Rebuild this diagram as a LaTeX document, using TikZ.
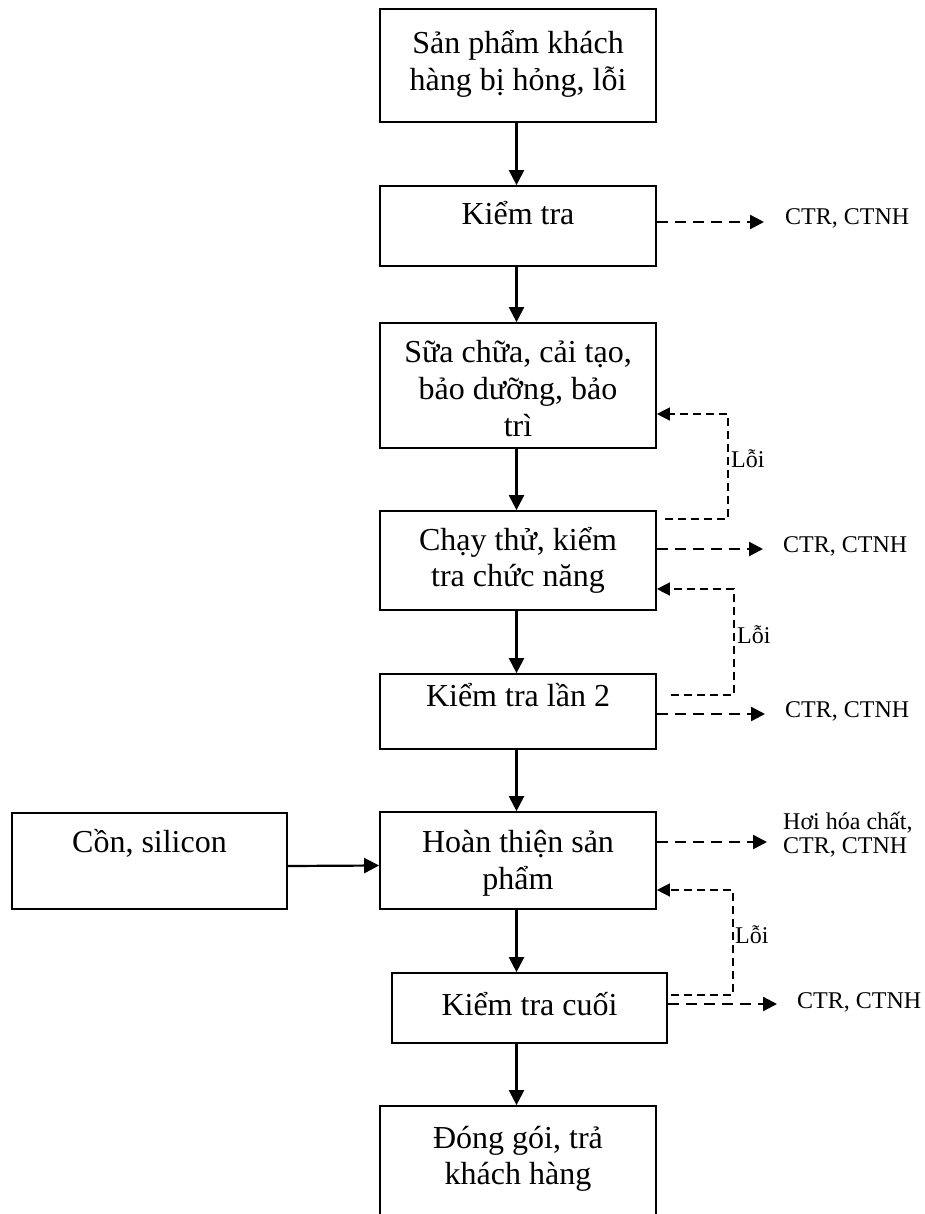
\documentclass[tikz,border=0pt]{standalone}
\usepackage{fontspec}
\setmainfont{Liberation Serif}
\usetikzlibrary{arrows.meta}

\begin{document}
\begin{tikzpicture}[x=1pt,y=-1pt,
  box/.style={draw, line width=1.7pt, inner sep=0pt, minimum width=276pt},
  main/.style={inner sep=0pt, align=center, font=\fontsize{32}{36.7}\selectfont},
  small/.style={inner sep=0pt, align=left, font=\fontsize{24}{24}\selectfont},
  flow/.style={line width=2.2pt, -{Triangle[length=15pt,width=15pt]}},
  waste/.style={line width=2.4pt, dash pattern=on 11pt off 7pt, -{Triangle[length=14pt,width=14pt]}},
  back/.style={line width=1.5pt, dash pattern=on 8pt off 5pt, -{Triangle[length=13pt,width=13pt]}},
]
\useasboundingbox (0,0) rectangle (924,1214);
\clip (0,0) rectangle (924,1214);

% process boxes
\node[box, minimum height=113pt] (b1) at (518,65.5) {};
\node[main] (t1) at (518,64.65) {\strut Sản phẩm khách\\\strut hàng bị hỏng, lỗi};
\node[box, minimum height=80pt] (b2) at (518,226) {};
\node[main] (t2) at (518,217.65) {\strut Kiểm tra};
\node[box, minimum height=125pt] (b3) at (518,385.5) {};
\node[main] (t3) at (518,392.15) {\strut Sữa chữa, cải tạo,\\\strut bảo dưỡng, bảo\\\strut trì};
\node[box, minimum height=99pt] (b4) at (518,560.5) {};
\node[main] (t4) at (518,561.15) {\strut Chạy thử, kiểm\\\strut tra chức năng};
\node[box, minimum height=75pt] (b5) at (518,711.5) {};
\node[main] (t5) at (518,699.65) {\strut Kiểm tra lần 2};
\node[box, minimum height=97pt] (b6) at (518,860.5) {};
\node[main] (t6) at (518,863.65) {\strut Hoàn thiện sản\\\strut phẩm};
\node[box, minimum width=275pt, minimum height=96pt] (cs) at (149.5,861) {};
\node[main] (tcs) at (149.5,845.65) {\strut Cồn, silicon};
\node[box, minimum width=275pt, minimum height=70pt] (b7) at (529.5,1008) {};
\node[main] (t7) at (529.5,1007.65) {\strut Kiểm tra cuối};
\node[box, minimum height=118pt] (b8) at (518,1165) {};
\node[main] (t8) at (518,1159.15) {\strut Đóng gói, trả\\\strut khách hàng};

% main flow
\draw[flow] ([xshift=-1.5pt]b1.south) -- ([xshift=-1.5pt]b2.north);
\draw[flow] ([xshift=-1.5pt]b2.south) -- ([xshift=-1.5pt]b3.north);
\draw[flow] ([xshift=-1.5pt]b3.south) -- ([xshift=-1.5pt]b4.north);
\draw[flow] ([xshift=-1.5pt]b4.south) -- ([xshift=-1.5pt]b5.north);
\draw[flow] ([xshift=-1.5pt]b5.south) -- ([xshift=-1.5pt]b6.north);
\draw[flow] ([xshift=-1.5pt]b6.south) -- ([xshift=-1.5pt]b6.south |- b7.north);
\draw[flow] ([xshift=-1.5pt]b7.south -| b8.north) -- ([xshift=-1.5pt]b8.north);
\draw[flow] ([yshift=-5pt]cs.east) -- ([yshift=-5pt]b6.west);

% waste outputs
\coordinate (w2a) at (764,222);
\draw[waste] (b2.east |- w2a) -- (w2a);
\node[small, anchor=base west] (w2) at (785,225) {CTR, CTNH};
\coordinate (w4a) at (763,549);
\draw[waste] (b4.east |- w4a) -- (w4a);
\node[small, anchor=base west] (w4) at (783,552) {CTR, CTNH};
\coordinate (w5a) at (765,714);
\draw[waste] (b5.east |- w5a) -- (w5a);
\node[small, anchor=base west] (w5) at (785,717) {CTR, CTNH};
\coordinate (w6a) at (767,842);
\draw[waste] (b6.east |- w6a) -- (w6a);
\node[small, anchor=west] (w6) at (783,836.2) {\strut Hơi hóa chất,\\\strut CTR, CTNH};
\coordinate (w7a) at (777,1004);
\draw[waste] (b7.east |- w7a) -- (w7a);
\node[small, anchor=base west] (w7) at (797,1008) {CTR, CTNH};

% rework loops
\coordinate (r1) at (665,519);
\coordinate (k1) at (728,414);
\draw[back] (r1) -| (k1) -- (k1 -| b3.east);
\node[small, anchor=base west] (e1) at (731,467) {Lỗi};
\coordinate (r2) at (671,695);
\coordinate (k2) at (734,589);
\draw[back] (r2) -| (k2) -- (k2 -| b4.east);
\node[small, anchor=base west] (e2) at (737,643) {Lỗi};
\coordinate (r3) at (671,995);
\coordinate (k3) at (733,890);
\draw[back] (r3) -| (k3) -- (k3 -| b6.east);
\node[small, anchor=base west] (e3) at (735,943) {Lỗi};
\end{tikzpicture}
\end{document}
